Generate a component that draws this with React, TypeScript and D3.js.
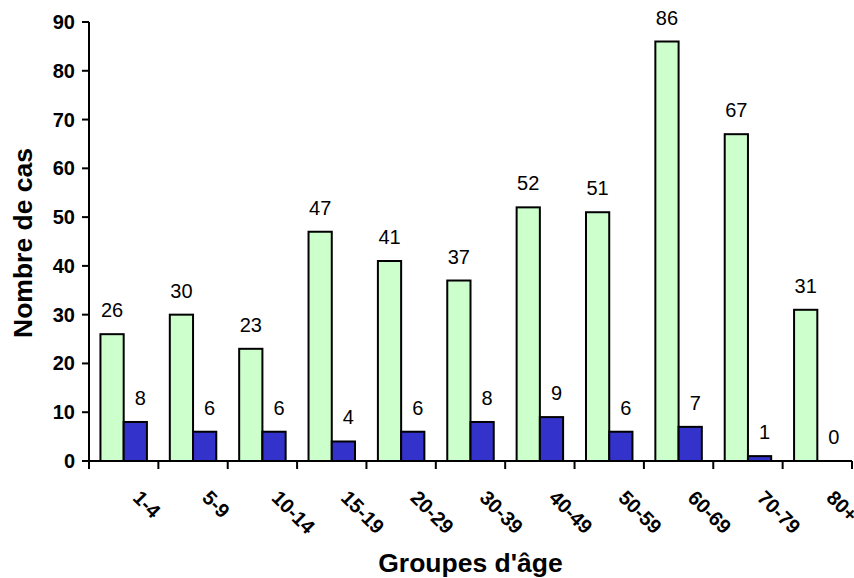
import React from "react";
import * as d3 from "d3";

const categories = ["1-4", "5-9", "10-14", "15-19", "20-29", "30-39", "40-49", "50-59", "60-69", "70-79", "80+"];
const seriesA = [26, 30, 23, 47, 41, 37, 52, 51, 86, 67, 31];
const seriesB = [8, 6, 6, 4, 6, 8, 9, 6, 7, 1, 0];
const yTicks = [0, 10, 20, 30, 40, 50, 60, 70, 80, 90];

const W = 854;
const H = 578;
const left = 89;
const right = 852;
const top = 22;
const bottom = 461;

export default function App() {
  const x = d3.scaleBand<string>().domain(categories).range([left, right]).padding(0);
  const y = d3.scaleLinear().domain([0, 90]).range([bottom, top]);
  const bw = x.bandwidth();
  const barW = bw * 0.335;
  const off = (bw - 2 * barW) / 2;
  const font = "Liberation Sans, Arial, sans-serif";
  const tickXs = d3.range(categories.length + 1).map((i) => left + i * bw);

  return (
    <svg width={W} height={H} style={{ position: "absolute", left: 0, top: 0, background: "#fff" }} fontFamily={font}>
      {categories.map((c, i) => {
        const x0 = x(c)! + off;
        return (
          <g key={c}>
            <rect x={x0} y={y(seriesA[i])} width={barW} height={bottom - y(seriesA[i])} fill="#ccffcc" stroke="#000" strokeWidth={2} />
            {seriesB[i] > 0 && (
              <rect x={x0 + barW} y={y(seriesB[i])} width={barW} height={bottom - y(seriesB[i])} fill="#3333cc" stroke="#000" strokeWidth={2} />
            )}
            <text x={x0 + barW / 2} y={y(seriesA[i]) - 17} textAnchor="middle" fontSize={20} fill="#000">{seriesA[i]}</text>
            <text x={x0 + barW * 1.5 + 5} y={y(seriesB[i]) - 17} textAnchor="middle" fontSize={20} fill="#000">{seriesB[i]}</text>
            <text
              transform={`translate(${x(c)! + bw / 2 + 8},${499}) rotate(45)`}
              textAnchor="start"
              fontSize={20}
              fontWeight="bold"
              fill="#000"
            >
              {c}
            </text>
          </g>
        );
      })}
      {/* Y axis */}
      <line x1={left} x2={left} y1={top} y2={bottom} stroke="#000" strokeWidth={2} />
      {yTicks.map((t) => (
        <g key={t}>
          <line x1={left - 7} x2={left} y1={y(t)} y2={y(t)} stroke="#000" strokeWidth={2} />
          <text x={75} y={y(t)} dy="0.35em" textAnchor="end" fontSize={20} fontWeight="bold" fill="#000">{t}</text>
        </g>
      ))}
      {/* X axis */}
      <line x1={left} x2={right} y1={bottom} y2={bottom} stroke="#000" strokeWidth={2} />
      {tickXs.map((tx, i) => (
        <line key={i} x1={tx} x2={tx} y1={bottom} y2={bottom + 8} stroke="#000" strokeWidth={2} />
      ))}
      <text x={470.5} y={572} textAnchor="middle" fontSize={26.5} fontWeight="bold" fill="#000">Groupes d'âge</text>
      <text transform={`translate(32,243) rotate(-90)`} textAnchor="middle" fontSize={26.5} fontWeight="bold" fill="#000">Nombre de cas</text>
    </svg>
  );
}
